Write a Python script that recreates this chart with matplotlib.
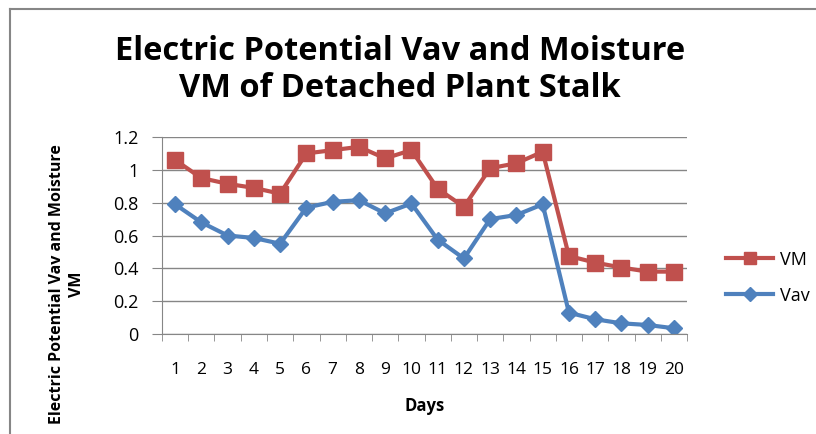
import matplotlib.pyplot as plt
from matplotlib.lines import Line2D

days = list(range(1, 21))
vm = [1.06, 0.95, 0.915, 0.89, 0.855, 1.10, 1.12, 1.14, 1.07, 1.12,
      0.885, 0.775, 1.01, 1.04, 1.11, 0.475, 0.435, 0.405, 0.38, 0.38]
vav = [0.79, 0.68, 0.60, 0.585, 0.55, 0.77, 0.805, 0.815, 0.735, 0.795,
       0.575, 0.46, 0.70, 0.725, 0.79, 0.13, 0.09, 0.065, 0.055, 0.035]

plt.rcParams['font.family'] = ['Open Sans', 'DejaVu Sans']

red = '#C0504D'
blue = '#4F81BD'
grey = '#868686'

fig = plt.figure(figsize=(8.16, 4.34), dpi=100)
ax = fig.add_axes([0.1985, 0.2304, 0.6435, 0.4539])

ax.plot(days, vm, color=red, lw=3, marker='s', ms=11, label='VM')
ax.plot(days, vav, color=blue, lw=3, marker='D', ms=8, label='Vav')

ax.set_xlim(0.5, 20.5)
ax.set_ylim(0, 1.2)
ax.set_yticks([0, 0.2, 0.4, 0.6, 0.8, 1, 1.2])
ax.set_yticklabels(['0', '0.2', '0.4', '0.6', '0.8', '1', '1.2'])
ax.set_xticks(days)
ax.set_xticklabels([str(d) for d in days])
ax.set_xticks([d + 0.5 for d in range(0, 21)], minor=True)
ax.tick_params(axis='x', which='major', length=0, pad=20, labelsize=12.5)
ax.tick_params(axis='x', which='minor', length=5, color=grey, direction='out')
ax.tick_params(axis='y', length=7, color=grey, labelsize=13, pad=10)

ax.grid(axis='y', color=grey, lw=1)
ax.set_axisbelow(True)
for s in ['top', 'right']:
    ax.spines[s].set_visible(False)
ax.spines['left'].set_color(grey)
ax.spines['bottom'].set_color(grey)

fig.text(0.52, 0.065, 'Days', ha='center', va='center', fontsize=12, fontweight='bold')
fig.text(0.082, 0.668, 'Electric Potential Vav and Moisture\nVM', rotation=90,
         ha='center', va='top', fontsize=11.5, fontweight='bold', linespacing=1.4)

fig.text(0.49, 0.838, 'Electric Potential Vav and Moisture\nVM of Detached Plant Stalk',
         ha='center', va='center', fontsize=23.5, fontweight='bold', linespacing=1.15)

handles = [Line2D([], [], color=red, lw=3, marker='s', ms=9),
           Line2D([], [], color=blue, lw=3, marker='D', ms=7)]
fig.legend(handles, ['VM', 'Vav'], loc='center left', bbox_to_anchor=(0.87, 0.36),
           frameon=False, fontsize=13, handlelength=2.6, handletextpad=0.4,
           labelspacing=1.0)

fig.add_artist(Line2D([0.012, 0.012], [0, 0.979], color=grey, lw=1.5,
                      transform=fig.transFigure))
fig.add_artist(Line2D([0.012, 1.0], [0.979, 0.979], color=grey, lw=1.5,
                      transform=fig.transFigure))

fig.savefig('out.png', dpi=100)
